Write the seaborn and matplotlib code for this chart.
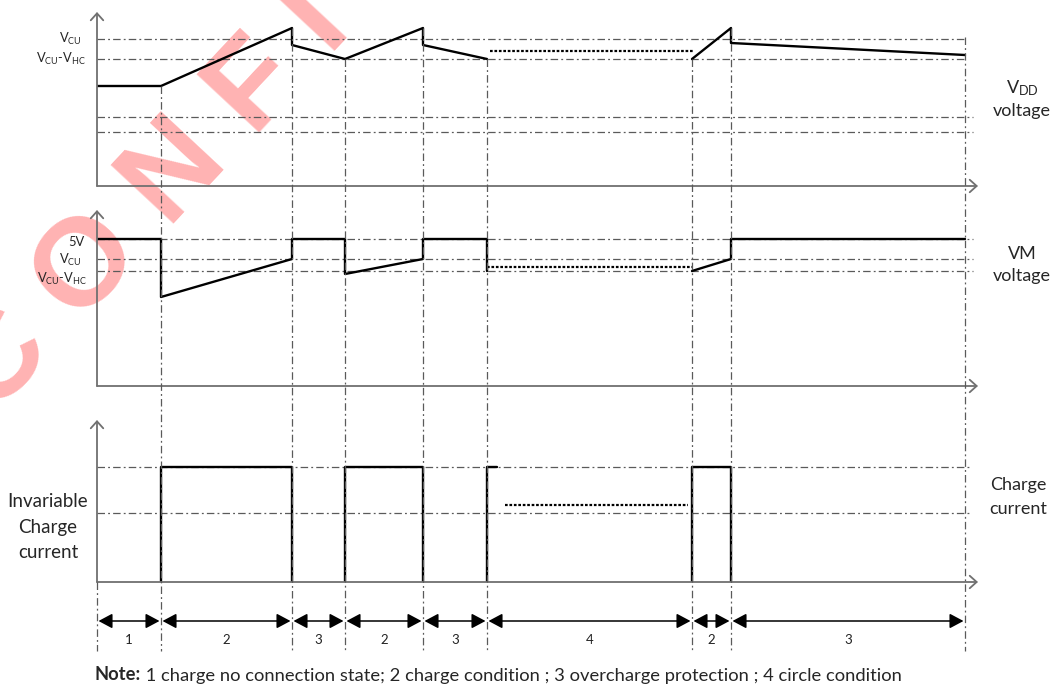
import matplotlib
matplotlib.use("Agg")
import matplotlib.pyplot as plt
import pandas as pd
import seaborn as sns

# event times on the common time axis (0 = vertical axis)
boundaries = [0, 64, 195, 248, 326, 390, 595, 634, 868]
t_end = 881
state_codes = ["1", "2", "3", "2", "3", "4", "2", "3"]

# VDD voltage (arbitrary units)
vdd_t = [0, 64, 195, 195, 248, 326, 326, 390, 595, 634, 634, 868]
vdd_v = [100, 100, 158, 141, 127, 158, 141, 127, 127, 158, 143, 131]
vdd_seg = [0, 0, 0, 0, 0, 0, 0, 0, 1, 1, 1, 1]
vdd_dot_t = [393, 596]
vdd_dot_v = [135, 135]
vdd_levels = [147, 127, 69, 54]
vdd_level_end = [868, 868, 876, 876]
vdd_top = 174

# VM voltage
vm_t = [0, 64, 64, 195, 195, 248, 248, 326, 326, 390, 390, 595, 634, 634, 868]
vm_v = [147, 147, 89, 127, 147, 147, 112, 127, 147, 147, 115, 115, 127, 147, 147]
vm_seg = [0] * 11 + [1] * 4
vm_dot_t = [390, 596]
vm_dot_v = [119, 119]
vm_levels = [147, 127, 115]
vm_top = 176

# charge current pulses
cur_t = [64, 64, 195, 195, 248, 248, 326, 326, 390, 390, 400, 595, 595, 634, 634]
cur_v = [0, 115, 115, 0, 0, 115, 115, 0, 0, 115, 115, 0, 115, 115, 0]
cur_seg = [0, 0, 0, 0, 1, 1, 1, 1, 2, 2, 2, 3, 3, 3, 3]
cur_dot_t = [408, 591]
cur_dot_v = [77, 77]
cur_levels = [115, 69]
cur_top = 162

# where the vertical guides start on the VDD trace
guide_top = [None, 100, 158, 127, 158, 127, 127, 158, 149]

VCU = r"V$_{\mathrm{CU}}$"
VCU_HC = r"V$_{\mathrm{CU}}$-V$_{\mathrm{HC}}$"

sns.set_style("white")
plt.rcParams["font.family"] = ["Lato", "DejaVu Sans"]
plt.rcParams["mathtext.fontset"] = "custom"
plt.rcParams["mathtext.rm"] = "Lato"
plt.rcParams["mathtext.it"] = "Lato:italic"
plt.rcParams["mathtext.bf"] = "Lato:bold"

W, H = 1051, 686
fig = plt.figure(figsize=(W / 100, H / 100), dpi=100)
x0 = 97

GRID = dict(color="#5a5a5a", lw=0.9, ls=(0, (6, 2.5, 1.5, 2.5)))
AXC = "#707070"


def panel(top_px, bottom_px, ymax):
    ax = fig.add_axes([x0 / W, (H - bottom_px) / H, t_end / W, (bottom_px - top_px) / H])
    ax.set_xlim(0, t_end)
    ax.set_ylim(0, ymax)
    ax.axis("off")
    arrow = dict(arrowstyle="->,head_length=0.5,head_width=0.45", color=AXC, lw=1.3,
                 shrinkA=0, shrinkB=0, mutation_scale=10)
    ax.annotate("", xy=(t_end, 0), xytext=(0, 0), arrowprops=arrow, annotation_clip=False)
    ax.annotate("", xy=(0, ymax), xytext=(0, 0), arrowprops=arrow, annotation_clip=False)
    return ax


def trace(ax, t, v, seg, dot_t, dot_v, ymax):
    df = pd.DataFrame({"t": t, "v": v, "seg": seg})
    sns.lineplot(data=df, x="t", y="v", units="seg", estimator=None, sort=False,
                 color="black", lw=1.7, ax=ax, legend=False)
    sns.lineplot(x=dot_t, y=dot_v, color="black", lw=1.6, ls=(0, (1.2, 0.8)), ax=ax)
    ax.set_xlim(0, t_end)
    ax.set_ylim(0, ymax)
    ax.set_xlabel("")
    ax.set_ylabel("")


ax1 = panel(12, 186, vdd_top)
ax1.hlines(vdd_levels, 0, vdd_level_end, **GRID)
trace(ax1, vdd_t, vdd_v, vdd_seg, vdd_dot_t, vdd_dot_v, vdd_top)

ax2 = panel(210, 386, vm_top)
ax2.hlines(vm_levels, 0, 876, **GRID)
trace(ax2, vm_t, vm_v, vm_seg, vm_dot_t, vm_dot_v, vm_top)

ax3 = panel(420, 582, cur_top)
ax3.hlines(cur_levels, 0, 875, **GRID)
trace(ax3, cur_t, cur_v, cur_seg, cur_dot_t, cur_dot_v, cur_top)

# overlay in time units (x) and pixel rows (y)
ov = fig.add_axes([0, 0, 1, 1])
ov.set_xlim(-x0, W - x0)
ov.set_ylim(H, 0)
ov.axis("off")


def row_of(ax, t, v):
    disp = ax.transData.transform((t, v))
    return ov.transData.inverted().transform(disp)[1]


guide_bottom = 651
for t, v in zip(boundaries, guide_top):
    y_start = row_of(ax3, t, 0) if v is None else row_of(ax1, t, v)
    ov.vlines(t, y_start, guide_bottom, color="#5a5a5a", lw=0.9,
              ls=(0, (6, 2.5, 1.5, 2.5)))

# state intervals
for a, b, code in zip(boundaries[:-1], boundaries[1:], state_codes):
    ov.annotate("", xy=(b - 1.5, 621), xytext=(a + 1.5, 621),
                arrowprops=dict(arrowstyle="<|-|>,head_length=0.6,head_width=0.32",
                                color="black", lw=1.1, shrinkA=0, shrinkB=0,
                                mutation_scale=14))
    ov.text((a + b) / 2, 640, code, ha="center", va="center", fontsize=9.5, color="#222222")

note = ov.text(-2, 675, "Note:", fontweight="bold", fontsize=13.2, ha="left", va="center")
ov.annotate(" 1 charge no connection state; 2 charge condition ; 3 overcharge protection ; "
            "4 circle condition", xy=(1, 0), xycoords=note, ha="left", va="bottom",
            fontsize=13.2)

# level labels
lab = dict(ha="right", va="center", fontsize=9.3, textcoords="offset points",
           annotation_clip=False)
ax1.annotate(VCU, xy=(0, vdd_levels[0]), xytext=(-11, 0), **lab)
ax1.annotate(VCU_HC, xy=(0, vdd_levels[1]), xytext=(-8, 0), **lab)
ax2.annotate("5V", xy=(0, vm_levels[0]), xytext=(-9, -2), **lab)
ax2.annotate(VCU, xy=(0, vm_levels[1]), xytext=(-11, -1), **lab)
ax2.annotate(VCU_HC, xy=(0, vm_levels[2]), xytext=(-7, -6), **lab)

ov.text(925, 99, "V$_{\\mathrm{DD}}$\nvoltage", ha="center", va="center",
        fontsize=13, linespacing=1.4)
ov.text(925, 265, "VM\nvoltage", ha="center", va="center", fontsize=13, linespacing=1.5)
ov.text(921, 497, "Charge\ncurrent", ha="center", va="center", fontsize=13, linespacing=1.6)
ov.text(-49, 527, "Invariable\nCharge\ncurrent", ha="center", va="center",
        fontsize=13.5, linespacing=1.6)

# watermark
fig.text(-30 / W, 1 - 395 / H, "C O N F I D E N T I A L", rotation=47,
         rotation_mode="anchor", ha="left", va="center", fontsize=90,
         fontweight="bold", family="Liberation Sans", color="red", alpha=0.3, zorder=-5)

fig.savefig("out.png", dpi=100)
